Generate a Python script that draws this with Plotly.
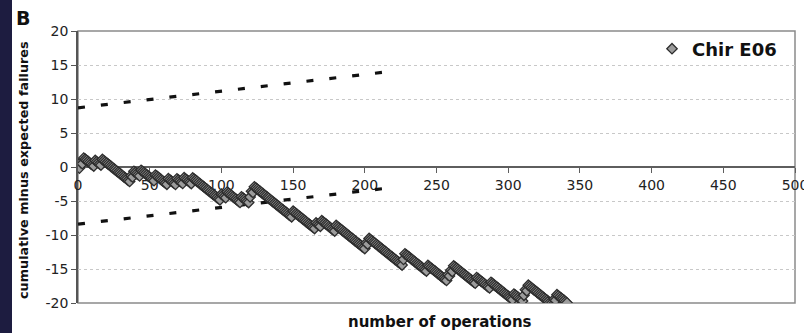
import numpy as np
import plotly.graph_objects as go

# Risk-adjusted CUSUM for one surgeon: observed failures minus expected failures
n_ops = 341
expected_rate = 0.17
failure_ops = [2, 4, 12, 17, 37, 39, 44, 54, 63, 69, 74, 80, 100, 104, 114,
               120, 121, 123, 150, 166, 170, 180, 201, 203, 227, 228, 244,
               258, 260, 262, 278, 288, 304, 311, 312, 314, 332, 334]

# Control limits (straight dashed boundaries)
limit_ops = [0, 220]
upper_limit = [8.7, 14.1]
lower_limit = [-8.4, -3.0]

x_ticks = list(range(0, 501, 50))
y_ticks = list(range(-20, 21, 5))

ops = np.arange(1, n_ops + 1)
observed = np.cumsum(np.isin(ops, failure_ops))
cusum = observed - expected_rate * ops

PLOT_L, PLOT_R, PLOT_T, PLOT_B = 78, 9, 31, 30
W, H = 804, 333
plot_w = W - PLOT_L - PLOT_R
plot_h = H - PLOT_T - PLOT_B


def px_to_paper_x(px):
    return (px - PLOT_L) / plot_w


def px_to_paper_y(py):
    return (H - PLOT_B - py) / plot_h


fig = go.Figure()

for lim in (upper_limit, lower_limit):
    fig.add_trace(go.Scatter(
        x=limit_ops, y=lim, mode="lines", showlegend=False, hoverinfo="skip",
        line=dict(color="#111111", width=3.2, dash="7px,16px"),
    ))

fig.add_trace(go.Scatter(
    x=ops, y=cusum, mode="markers", name="Chir E06",
    marker=dict(symbol="diamond", size=8, color="#9c9c9c",
                line=dict(color="#2e2e2e", width=1.3)),
))

tick_font = dict(family="DejaVu Sans", size=14, color="#222222")

fig.update_layout(
    width=W, height=H,
    margin=dict(l=PLOT_L, r=PLOT_R, t=PLOT_T, b=PLOT_B, pad=0),
    paper_bgcolor="white", plot_bgcolor="white",
    xaxis=dict(
        range=[0, 500], tickvals=x_ticks, ticktext=[str(v) for v in x_ticks],
        anchor="free", position=0.5, showline=True, linecolor="#5e5e5e",
        linewidth=1.5, ticks="outside", ticklen=5, tickcolor="#5e5e5e",
        showgrid=False, zeroline=False, tickfont=tick_font,
        layer="below traces", ticklabeloverflow="allow", automargin=False,
    ),
    yaxis=dict(
        range=[-20, 20], tickvals=y_ticks, ticktext=[str(v) for v in y_ticks],
        showline=True, linecolor="#555555", linewidth=1.5, ticks="outside",
        ticklen=5, tickcolor="#555555", showgrid=True, gridcolor="#c8c8c8",
        griddash="dot", gridwidth=1, zeroline=False, tickfont=tick_font,
        layer="below traces", automargin=False,
    ),
    legend=dict(
        x=px_to_paper_x(782), xanchor="right",
        y=px_to_paper_y(49), yanchor="middle",
        bgcolor="rgba(0,0,0,0)", borderwidth=0,
        font=dict(family="DejaVu Sans", size=18, color="#111111", weight="bold"),
        itemwidth=30,
    ),
    shapes=[
        # plot frame
        dict(type="rect", xref="paper", yref="paper", x0=0, x1=1, y0=0, y1=1,
             line=dict(color="#8a8a8a", width=1.5), layer="below"),
        # dark band at the left edge of the panel
        dict(type="rect", xref="paper", yref="paper",
             x0=px_to_paper_x(0), x1=px_to_paper_x(12),
             y0=px_to_paper_y(H), y1=px_to_paper_y(0),
             fillcolor="#1d1c40", line=dict(width=0), layer="above"),
    ],
    annotations=[
        dict(text="B", xref="paper", yref="paper",
             x=px_to_paper_x(14), xanchor="left",
             y=px_to_paper_y(18), yanchor="middle", showarrow=False,
             font=dict(family="DejaVu Sans", size=19, color="#111111", weight="bold")),
        dict(text="cumulative minus expected failures", xref="paper", yref="paper",
             x=px_to_paper_x(23), xanchor="center", y=px_to_paper_y(170),
             yanchor="middle", textangle=-90, showarrow=False,
             font=dict(family="DejaVu Sans", size=12.8, color="#111111", weight="bold")),
        dict(text="number of operations", xref="paper", yref="paper",
             x=px_to_paper_x(440), xanchor="center", y=px_to_paper_y(322),
             yanchor="middle", showarrow=False,
             font=dict(family="DejaVu Sans", size=15, color="#111111", weight="bold")),
    ],
)

fig.write_html("out.html")
